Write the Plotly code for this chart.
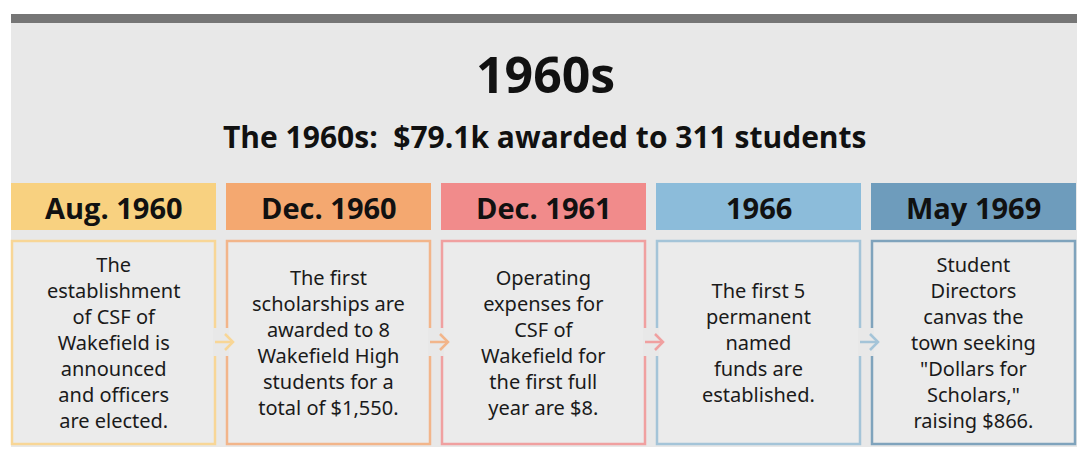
import plotly.graph_objects as go

title = "1960s"
subtitle = "The 1960s:  $79.1k awarded to 311 students"
dates = ["Aug. 1960", "Dec. 1960", "Dec. 1961", "1966", "May 1969"]
events = [
    "The<br>establishment<br>of CSF of<br>Wakefield is<br>announced<br>and officers<br>are elected.",
    "The first<br>scholarships are<br>awarded to 8<br>Wakefield High<br>students for a<br>total of $1,550.",
    "Operating<br>expenses for<br>CSF of<br>Wakefield for<br>the first full<br>year are $8.",
    "The first 5<br>permanent<br>named<br>funds are<br>established.",
    "Student<br>Directors<br>canvas the<br>town seeking<br>\"Dollars for<br>Scholars,\"<br>raising $866.",
]
head_colors = ["#f8d180", "#f4a870", "#f18b8b", "#8cbcda", "#6e9cbc"]
border_colors = ["#f8d696", "#f2b58a", "#f0a0a0", "#a4c4d8", "#7fa3bc"]

W, H = 1090, 461
OFF = 8  # page body margin
fig = go.Figure()
shapes, ann, arrows = [], [], []
shapes.append(dict(type="rect", x0=11, x1=1077, y0=14, y1=447, fillcolor="#e8e8e8", line_width=0, layer="below"))
shapes.append(dict(type="rect", x0=11, x1=1077, y0=14, y1=23, fillcolor="#767676", line_width=0))
ann.append(dict(x=545, y=74, text="<b>%s</b>" % title, showarrow=False, font=dict(size=50, family="Open Sans", color="#111")))
ann.append(dict(x=545, y=136, text="<b>%s</b>" % subtitle, showarrow=False, font=dict(size=30, family="Open Sans", color="#111")))

lefts = [11, 226, 441, 656, 871]
bw = 205
for i, (d, e) in enumerate(zip(dates, events)):
    x0 = lefts[i]; x1 = x0 + bw
    shapes.append(dict(type="rect", x0=x0, x1=x1, y0=183, y1=230, fillcolor=head_colors[i], line_width=0))
    shapes.append(dict(type="rect", x0=x0 + 1, x1=x1 - 1, y0=241, y1=444, fillcolor="#ebebeb",
                       line=dict(color=border_colors[i], width=2.5)))
    ann.append(dict(x=(x0 + x1) / 2, y=207, text="<b>%s</b>" % d, showarrow=False,
                    font=dict(size=29, family="Open Sans", color="#111")))
    ann.append(dict(x=(x0 + x1) / 2, y=342, text=e, showarrow=False,
                    font=dict(size=20, family="Noto Sans", color="#1a1a1a")))
    if i < 4:
        c = border_colors[i]
        nx = lefts[i + 1]
        arrows.append(dict(type="rect", x0=x1 - 3, x1=x1 + 1, y0=328, y1=356, fillcolor="#e8e8e8", line_width=0))
        arrows.append(dict(type="rect", x0=nx - 1, x1=nx + 3, y0=328, y1=356, fillcolor="#e8e8e8", line_width=0))
        arrows.append(dict(type="line", x0=x1 - 1, x1=nx + 6, y0=342, y1=342, line=dict(color=c, width=2.5)))
        arrows.append(dict(type="path", path=f"M {nx-1},334 L {nx+7},342 L {nx-1},350",
                           line=dict(color=c, width=2.5)))
shapes += arrows

for a in ann:
    a.update(xref="x", yref="y")
fig.update_layout(width=W, height=H, margin=dict(l=0, r=0, t=0, b=0),
                  paper_bgcolor="white", plot_bgcolor="white",
                  xaxis=dict(range=[OFF, W + OFF], visible=False, fixedrange=True),
                  yaxis=dict(range=[H + OFF, OFF], visible=False, fixedrange=True),
                  shapes=shapes, annotations=ann, showlegend=False)
fig.write_html("out.html")
